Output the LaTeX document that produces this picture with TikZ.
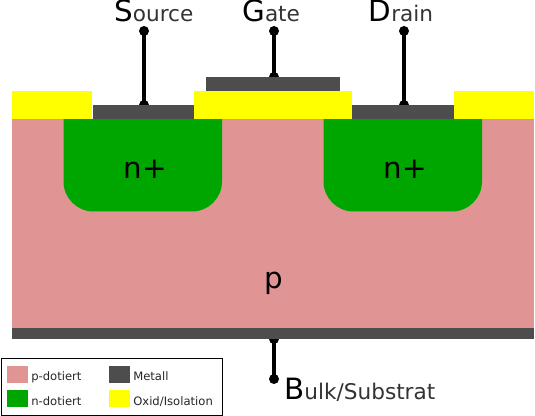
\documentclass[tikz,border=0pt]{standalone}
\usepackage{fontspec}
\setmainfont{DejaVu Sans}
\definecolor{pdop}{HTML}{E09494}
\definecolor{ndop}{HTML}{00A600}
\definecolor{metal}{HTML}{4D4D4D}
\definecolor{oxid}{HTML}{FFFF00}
\definecolor{lbl}{HTML}{333333}
\tikzset{
  x=0.75pt,y=-0.75pt,
  region/.style={draw=none,fill=#1},
  terminal/.style={circle,fill=black,draw=none,inner sep=0pt,minimum size=7.5pt},
  wire/.style={draw=black,line width=2.5pt},
  term label/.style={anchor=base west,inner sep=0pt,text=lbl,font=\fontsize{16.2}{17}\selectfont},
  center label/.style={anchor=base,inner sep=0pt,text=black,font=\fontsize{22}{23}\selectfont},
  swatch/.style={region=#1,minimum width=15.75pt,minimum height=12.75pt,inner sep=0pt,anchor=north west,rectangle},
  legend text/.style={anchor=base west,inner sep=0pt,text=black!85,font=\fontsize{8.7}{10}\selectfont},
}
\newcommand{\InitL}[1]{{\fontsize{22}{23}\selectfont\color{black}#1}}
\begin{document}
\begin{tikzpicture}
\useasboundingbox (0,0) rectangle (535,416);
\node[terminal] (sb) at (144,105) {};
\node[terminal] (gb) at (274,77) {};
\node[terminal] (db) at (404,105) {};
\node[terminal] (bt) at (274,339) {};
\node[terminal] (st) at (144,31) {};
\node[terminal] (gt) at (274,31) {};
\node[terminal] (dt) at (404,31) {};
\node[terminal] (bb) at (274,379) {};
\draw[wire] (st.center) -- (sb.center);
\draw[wire] (gt.center) -- (gb.center);
\draw[wire] (dt.center) -- (db.center);
\draw[wire] (bb.center) -- (bt.center);
\fill[region=pdop] (12,119) rectangle (534,328);
\fill[region=metal] (12,328) rectangle (534,339);
\fill[region=ndop] (63.5,119) -- (222,119) -- (222,181.5) .. controls (222,198) and (208.5,211.5) .. (192,211.5) -- (93.5,211.5) .. controls (77,211.5) and (63.5,198) .. (63.5,181.5) -- cycle;
\fill[region=ndop] (323.5,119) -- (482,119) -- (482,181.5) .. controls (482,198) and (468.5,211.5) .. (452,211.5) -- (353.5,211.5) .. controls (337,211.5) and (323.5,198) .. (323.5,181.5) -- cycle;
\fill[region=oxid] (12,91.5) rectangle (92,119);
\fill[region=oxid] (194,91.5) rectangle (352,119);
\fill[region=oxid] (454,91.5) rectangle (534,119);
\fill[region=metal] (92.5,105) rectangle (194,119);
\fill[region=metal] (352,105) rectangle (453.5,119);
\fill[region=metal] (206,77) rectangle (340,91.5);
\node[center label] (n1) at (145,179) {n+};
\node[center label] (n2) at (405,179) {n+};
\node[center label] (p) at (274,289) {p};
\node[term label] (ls) at (114,22) {\InitL{S}ource};
\node[term label] (lg) at (242,22) {\InitL{G}ate};
\node[term label] (ld) at (368.5,22) {\InitL{D}rain};
\node[term label] (lb) at (284,399.5) {\InitL{B}ulk/Substrat};
\draw[black,line width=0.75pt,fill=white] (1.5,358.5) rectangle (222,415);
\node[swatch=pdop] (k1) at (6.5,365.5) {};
\node[swatch=ndop] (k2) at (6.5,390) {};
\node[swatch=metal] (k3) at (108.5,365.5) {};
\node[swatch=oxid] (k4) at (108.5,390) {};
\node[legend text] (t1) at (31,380) {p-dotiert};
\node[legend text] (t2) at (31,405) {n-dotiert};
\node[legend text] (t3) at (133,380) {Metall};
\node[legend text] (t4) at (133,405) {Oxid/Isolation};
\end{tikzpicture}
\end{document}
